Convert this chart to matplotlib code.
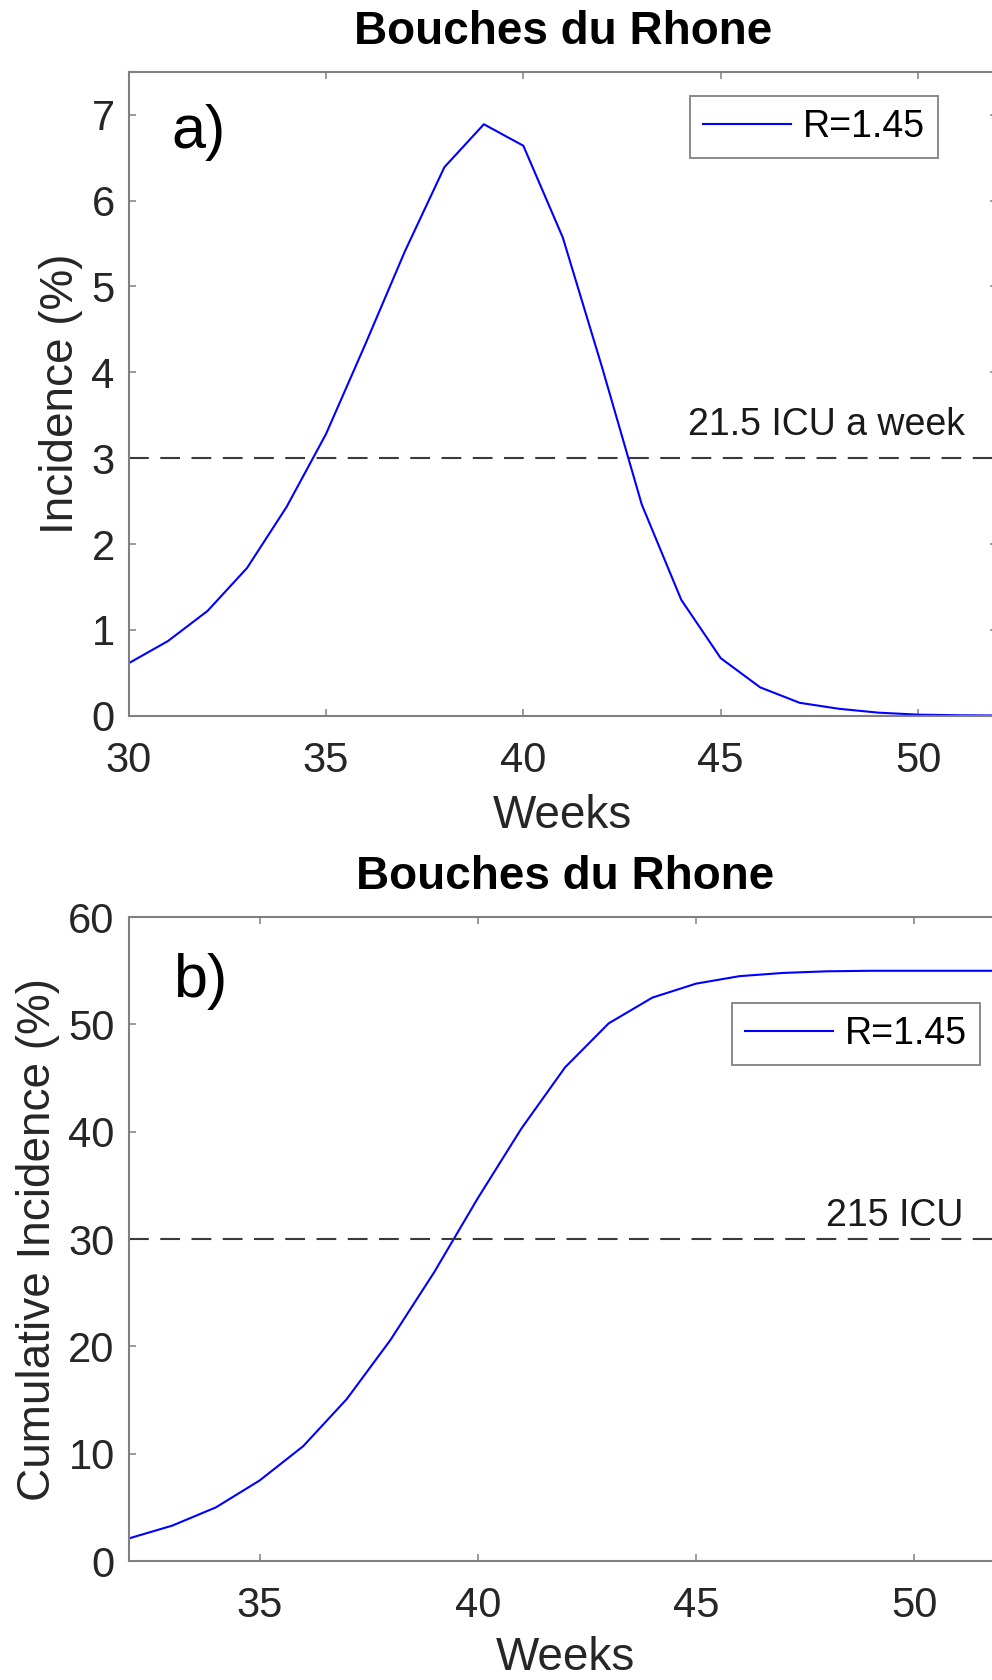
import matplotlib
matplotlib.use('Agg')
import matplotlib.pyplot as plt

plt.rcParams['font.family'] = ['Liberation Sans', 'DejaVu Sans']

# weekly incidence (%) and cumulative incidence (%)
weeks_a = list(range(30, 53))
incidence = [0.61, 0.87, 1.22, 1.72, 2.43, 3.28, 4.33, 5.41, 6.39, 6.89, 6.64, 5.57,
             4.05, 2.46, 1.35, 0.67, 0.33, 0.15, 0.08, 0.035, 0.012, 0.005, 0.002]
weeks_b = list(range(32, 53))
cumulative = [2.1, 3.3, 5.0, 7.5, 10.7, 15.1, 20.6, 26.9, 33.8, 40.3, 46.0, 50.1,
              52.5, 53.8, 54.5, 54.8, 54.95, 55.0, 55.0, 55.0, 55.0]

title = 'Bouches du Rhone'
series_label = 'R=1.45'
thr_a, thr_a_text = 3, '21.5 ICU a week'
thr_b, thr_b_text = 30, '215 ICU'

fig = plt.figure(figsize=(9.92, 16.8), dpi=100)
ax1 = fig.add_axes([0.1296, 0.574, 0.8755, 0.3832])
ax2 = fig.add_axes([0.1296, 0.0708, 0.880, 0.3833])

spine_c = '#808080'
txt_c = '#262626'


def style(ax):
    for s in ax.spines.values():
        s.set_color(spine_c)
        s.set_linewidth(1.5)
    ax.tick_params(direction='in', length=5, width=1.1, color=spine_c,
                   labelcolor=txt_c, labelsize=30, top=True, right=True)
    ax.tick_params(axis='x', pad=18)
    ax.tick_params(axis='y', pad=10)


# panel a
ax1.plot(weeks_a, incidence, color='#0000ff', lw=1.5, label=series_label)
ax1.axhline(thr_a, color='#3a3a3a', lw=1.5, dashes=(9.5, 5.5))
ax1.text(44.17, 3.27, thr_a_text, fontsize=27, color='#1a1a1a', va='baseline')
ax1.set_xlim(30, 52)
ax1.set_ylim(0, 7.5)
ax1.set_xticks([30, 35, 40, 45, 50])
ax1.set_yticks(range(0, 8))
style(ax1)
ax1.set_title(title, fontsize=33, fontweight='bold', pad=20)
ax1.set_xlabel('Weeks', fontsize=33, color=txt_c)
ax1.set_ylabel('Incidence (%)', fontsize=33, color=txt_c)
ax1.xaxis.set_label_coords(0.5, -0.121)
ax1.yaxis.set_label_coords(-0.052, 0.5)
ax1.text(0.049, 0.9056, 'a)', transform=ax1.transAxes, fontsize=44,
         ha='left', va='center')
leg = ax1.legend(loc='upper right', bbox_to_anchor=(0.932, 0.963), borderaxespad=0,
                 fontsize=27, handlelength=2.35, handletextpad=0.32, borderpad=0.35,
                 fancybox=False, edgecolor='#8a8a8a', framealpha=1)
leg.get_frame().set_linewidth(1.4)

# panel b
ax2.plot(weeks_b, cumulative, color='#0000ff', lw=1.5, label=series_label)
ax2.axhline(thr_b, color='#3a3a3a', lw=1.5, dashes=(9.5, 5.5))
ax2.text(47.98, 31.2, thr_b_text, fontsize=27, color='#1a1a1a', va='baseline')
ax2.set_xlim(32, 52)
ax2.set_ylim(0, 60)
ax2.set_xticks([35, 40, 45, 50])
ax2.set_yticks(range(0, 61, 10))
style(ax2)
ax2.set_title(title, fontsize=33, fontweight='bold', pad=20)
ax2.set_xlabel('Weeks', fontsize=33, color=txt_c)
ax2.set_ylabel('Cumulative Incidence (%)', fontsize=33, color=txt_c)
ax2.xaxis.set_label_coords(0.5, -0.117)
ax2.yaxis.set_label_coords(-0.0785, 0.5)
ax2.text(0.051, 0.9006, 'b)', transform=ax2.transAxes, fontsize=44,
         ha='left', va='center')
leg = ax2.legend(loc='upper right', bbox_to_anchor=(0.9754, 0.8665), borderaxespad=0,
                 fontsize=27, handlelength=2.35, handletextpad=0.32, borderpad=0.35,
                 fancybox=False, edgecolor='#8a8a8a', framealpha=1)
leg.get_frame().set_linewidth(1.4)

fig.savefig('out.png', dpi=100)
